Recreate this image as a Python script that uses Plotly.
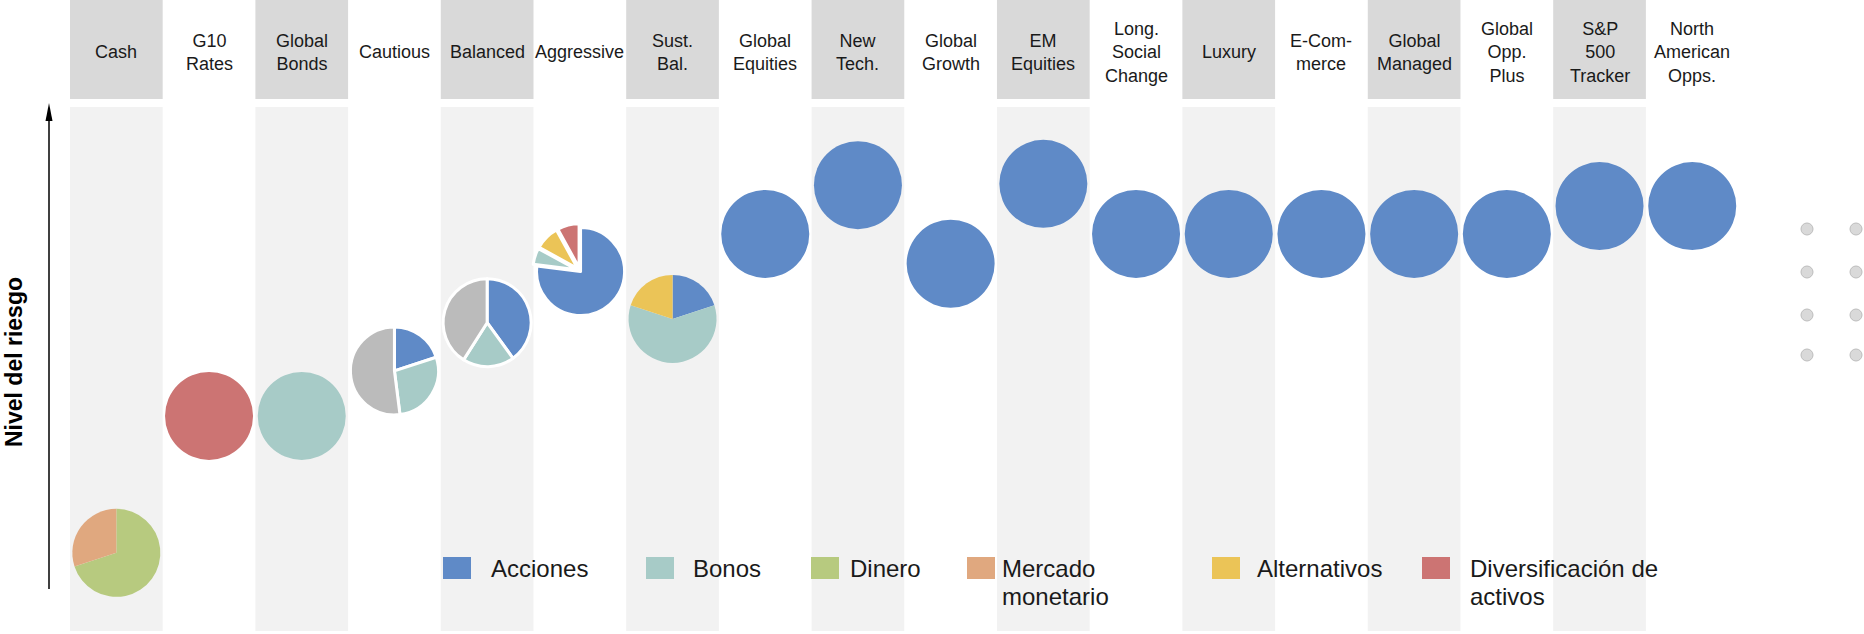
import plotly.graph_objects as go

# ---------------- data ----------------
funds = ["Cash", "G10<br>Rates", "Global<br>Bonds", "Cautious", "Balanced", "Aggressive",
         "Sust.<br>Bal.", "Global<br>Equities", "New<br>Tech.", "Global<br>Growth", "EM<br>Equities",
         "Long.<br>Social<br>Change", "Luxury", "E-Com-<br>merce", "Global<br>Managed",
         "Global<br>Opp.<br>Plus", "S&P<br>500<br>Tracker", "North<br>American<br>Opps."]

# risk level (arbitrary 0-10 scale)
risk_level = [1.28, 3.44, 3.44, 4.15, 4.91, 5.73, 4.97, 6.31, 7.08, 5.84, 7.10,
              6.31, 6.31, 6.31, 6.31, 6.31, 6.75, 6.75]

# allocation (%) per asset class, in clockwise slice order
acciones       = [0, 0, 0, 20, 40, 77, 20, 100, 100, 100, 100, 100, 100, 100, 100, 100, 100, 100]
bonos          = [0, 0, 100, 28, 19, 6, 60, 0, 0, 0, 0, 0, 0, 0, 0, 0, 0, 0]
dinero         = [70, 0, 0, 0, 0, 0, 0, 0, 0, 0, 0, 0, 0, 0, 0, 0, 0, 0]
mercado        = [30, 0, 0, 0, 0, 0, 0, 0, 0, 0, 0, 0, 0, 0, 0, 0, 0, 0]
alternativos   = [0, 0, 0, 0, 0, 9, 20, 0, 0, 0, 0, 0, 0, 0, 0, 0, 0, 0]
diversificacion = [0, 100, 0, 0, 0, 8, 0, 0, 0, 0, 0, 0, 0, 0, 0, 0, 0, 0]
otros          = [0, 0, 0, 52, 41, 0, 0, 0, 0, 0, 0, 0, 0, 0, 0, 0, 0, 0]

legend_labels = ["Acciones", "Bonos", "Dinero", "Mercado\nmonetario", "Alternativos",
                 "Diversificación de\nactivos"]
axis_title = "Nivel del riesgo"

# ---------------- style ----------------
W, H = 1864, 634
FONT = "Liberation Sans, Arial, Helvetica, sans-serif"
colors = {"Acciones": "#5F8AC7", "Bonos": "#A7CBC7", "Dinero": "#B7CA7F",
          "Mercado monetario": "#E0A87F", "Alternativos": "#EBC457",
          "Diversificación de activos": "#CC7473", "Otros": "#BBBBBB"}
series = [("Acciones", acciones), ("Bonos", bonos), ("Dinero", dinero),
          ("Mercado monetario", mercado), ("Alternativos", alternativos),
          ("Diversificación de activos", diversificacion), ("Otros", otros)]
bordered = {3, 4, 5}
exploded = {5}

XA, XB = -1.255, 18.853
YA, YB = 0.0, 10.0
R = 44.0

def xp(v):
    return (v - XA) / (XB - XA)

def yp(v):
    return (v - YA) / (YB - YA)

fig = go.Figure()

# invisible anchor trace for the category / risk axes
fig.add_trace(go.Scatter(x=list(range(len(funds))), y=risk_level, mode="markers",
                         marker=dict(opacity=0), hoverinfo="skip", showlegend=False))

for i, name in enumerate(funds):
    labs, vals = [], []
    for lab, arr in series:
        if arr[i] > 0:
            labs.append(lab)
            vals.append(arr[i])
    pulls = [0] * len(vals)
    if i in exploded:
        pulls = [0.025] + [0.07] * (len(vals) - 1)
    mp = max(pulls)
    rx = R * (1 + mp) / W
    ry = R * (1 + mp) / H
    cx, cy = xp(i), yp(risk_level[i])
    fig.add_trace(go.Pie(
        labels=labs, values=vals, sort=False, direction="clockwise", rotation=0,
        textinfo="none", showlegend=False, pull=pulls,
        marker=dict(colors=[colors[l] for l in labs],
                    line=dict(color="white", width=3 if i in bordered else 0)),
        domain=dict(x=[cx - rx, cx + rx], y=[cy - ry, cy + ry]),
        name=name.replace("<br>", " ")))

shapes = []
annotations = []
for i, name in enumerate(funds):
    if i % 2 == 0:
        shapes.append(dict(type="rect", xref="x", yref="paper", x0=i - 0.5, x1=i + 0.5,
                           y0=1 - 99 / H, y1=1, fillcolor="#D9D9D9",
                           line=dict(width=0), layer="below"))
        shapes.append(dict(type="rect", xref="x", yref="paper", x0=i - 0.5, x1=i + 0.5,
                           y0=1 - 631 / H, y1=1 - 107 / H, fillcolor="#F2F2F2",
                           line=dict(width=0), layer="below"))
    annotations.append(dict(x=i, y=1 - 52 / H, xref="x", yref="paper", text=name,
                            showarrow=False, xanchor="center", yanchor="middle",
                            font=dict(family=FONT, size=18, color="#1a1a1a")))

# vertical risk arrow
ax = 49 / W
shapes.append(dict(type="line", xref="paper", yref="paper", x0=ax, x1=ax,
                   y0=1 - 589 / H, y1=1 - 118 / H, line=dict(color="black", width=1.5)))
shapes.append(dict(type="path", xref="paper", yref="paper",
                   path=f"M {ax},{1 - 103 / H} L {(45.5) / W},{1 - 121 / H} "
                        f"L {(52.5) / W},{1 - 121 / H} Z",
                   fillcolor="black", line=dict(width=0)))
annotations.append(dict(x=14 / W, y=1 - 362 / H, xref="paper", yref="paper", text=f"<b>{axis_title}</b>",
                        textangle=-90, showarrow=False, xanchor="center", yanchor="middle",
                        font=dict(family=FONT, size=23, color="black")))

# legend (manual)
sq_left = [443, 646, 811, 967, 1212, 1422]
txt_left = [489, 691, 848, 1000, 1255, 1468]
leg_keys = ["Acciones", "Bonos", "Dinero", "Mercado monetario", "Alternativos",
            "Diversificación de activos"]
for k, lab in enumerate(legend_labels):
    shapes.append(dict(type="rect", xref="paper", yref="paper",
                       x0=sq_left[k] / W, x1=(sq_left[k] + 28) / W,
                       y0=1 - 579 / H, y1=1 - 557 / H,
                       fillcolor=colors[leg_keys[k]], line=dict(width=0)))
    for j, line in enumerate(lab.split("\n")):
        base = 577 + 28 * j
        annotations.append(dict(x=txt_left[k] / W, y=1 - (base - 8.5) / H, xref="paper", yref="paper",
                                text=line, showarrow=False, xanchor="left", yanchor="middle",
                                font=dict(family=FONT, size=24, color="#1a1a1a")))

# "more" dots
for dx in (1807, 1856):
    for dy in (229, 272, 315, 355):
        shapes.append(dict(type="circle", xref="paper", yref="paper",
                           x0=(dx - 6) / W, x1=(dx + 6) / W, y0=1 - (dy + 6) / H, y1=1 - (dy - 6) / H,
                           fillcolor="#D9D9D9", line=dict(color="#BDBDBD", width=1)))

fig.update_layout(
    width=W, height=H, margin=dict(l=0, r=0, t=0, b=0),
    paper_bgcolor="white", plot_bgcolor="white",
    xaxis=dict(range=[XA, XB], visible=False, fixedrange=True),
    yaxis=dict(range=[YA, YB], visible=False, fixedrange=True),
    shapes=shapes, annotations=annotations, showlegend=False,
    font=dict(family=FONT),
)

fig.write_html("out.html", config={"displayModeBar": False},
               post_script="document.body.style.margin='0';document.body.style.overflow='hidden';")
